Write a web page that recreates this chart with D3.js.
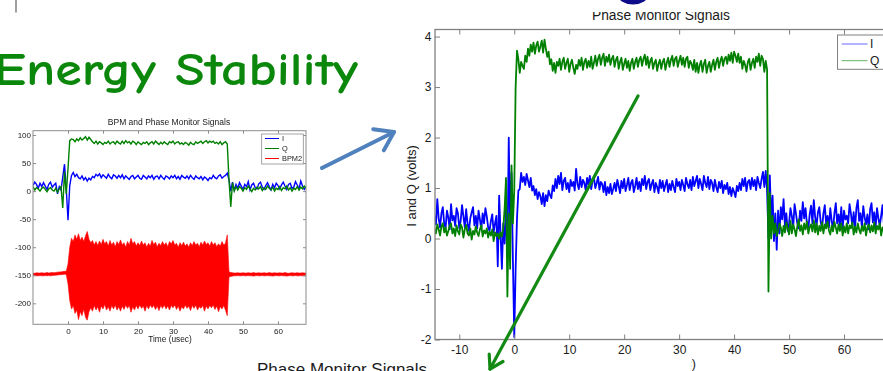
<!DOCTYPE html>
<html>
<head>
<meta charset="utf-8">
<script src="https://cdn.jsdelivr.net/npm/d3@7"></script>
<style>
  body { margin: 0; background: #fff; }
  svg { display: block; }
</style>
</head>
<body>
<svg id="slide" width="883" height="371"></svg>
<script>
// ---------- Phase monitor (large panel): I and Q in volts, sampled every 0.25 usec from -14.5 usec ----------
const phaseStart = -14.5;
const phaseStep = 0.25;
const phaseI = [
  0.45,0.28,0.78,0.4,0.22,0.5,0.62,0.3,0.2,0.55,0.42,
  0.18,0.68,0.36,0.45,0.25,0.6,0.5,0.2,0.35,0.66,
  0.44,0.22,0.58,0.3,0.15,0.4,0.52,0.62,0.26,0.45,
  0.2,0.55,0.38,0.18,0.5,0.3,0.6,0.44,0.22,0.15,
  0.35,0.48,0.12,0.3,0.45,
  -0.55,0.85,0.1,-0.6,0.3,-0.1,0.6,-0.3,2.0,0.2,1.3,-0.4,-1.95,-0.6,0.4,0.95,
  0.98,1.3,1.12,1.22,1.06,1.28,1.15,1.02,1.2,0.95,
  1.04,0.86,0.98,0.78,0.92,0.84,0.68,0.9,0.64,0.86,
  0.74,0.95,0.86,0.8,1.05,0.94,1.18,1.0,1.24,1.08,
  1.3,0.96,1.14,1.2,0.98,1.1,0.92,1.16,1.04,1.12,
  0.95,1.38,1.08,0.98,1.22,1.02,1.16,1.1,0.96,1.2,
  1.06,1.24,0.98,1.14,1.2,1.0,1.1,1.22,0.97,1.12,
  1.08,0.92,1.12,0.86,1.02,0.9,1.08,0.88,0.98,1.1,
  0.94,1.16,1.04,0.9,1.14,1.0,1.18,0.94,1.06,1.2,
  0.96,1.1,1.16,0.92,1.04,1.2,0.98,1.12,0.94,1.18,
  1.06,1.24,0.98,1.12,1.18,0.96,1.08,1.16,0.92,1.1,
  1.02,0.9,1.16,1.0,1.14,0.94,1.06,1.16,0.92,1.08,
  0.96,1.14,1.02,0.92,1.18,1.04,1.12,0.96,1.16,1.06,
  0.94,1.2,1.08,1.0,1.16,0.96,1.22,1.04,1.14,1.24,
  1.0,1.18,1.08,0.96,1.24,1.1,1.02,1.22,0.98,1.16,
  1.1,0.94,1.16,1.02,0.92,1.12,1.0,1.14,0.9,1.06,
  0.98,1.1,0.88,1.02,0.84,1.0,0.92,0.82,1.04,0.94,
  1.1,0.96,1.18,1.04,1.2,0.94,1.12,1.16,0.98,1.2,
  1.04,1.16,0.96,1.22,1.1,1.0,1.18,1.32,1.02,1.34,
  0.95,
  0.0,1.25,0.3,0.85,-0.05,0.5,-0.22,
  0.55,
  0.1,0.62,0.38,0.78,0.25,0.5,0.15,0.3,0.6,
  0.45,0.22,0.68,0.5,0.3,0.2,0.55,0.35,0.72,0.4,
  0.6,0.28,0.18,0.48,0.65,0.3,0.76,0.42,0.25,0.52,
  0.62,0.33,0.2,0.5,0.66,0.28,0.45,0.22,0.6,0.35,
  0.18,0.5,0.7,0.3,0.48,0.25,0.62,0.2,0.55,0.38,
  0.45,0.3,0.68,0.5,0.24,0.52,0.2,0.6,0.76,0.35,
  0.5,0.22,0.64,0.42,0.28,0.48,0.18,0.58,0.7,0.32,
  0.52,0.22,0.6,0.4,0.25,0.45,0.66,0.3,0.85,0.35,0.55
];
const phaseQ = [
  0.2,0.1,0.28,0.18,0.06,0.24,0.3,0.12,0.22,0.06,
  0.15,0.25,0.3,0.1,0.2,0.05,0.26,0.14,0.08,0.28,
  0.22,0.02,0.18,0.27,0.1,0.06,0.2,-0.02,0.15,0.08,
  0.24,0.12,0.05,0.18,0.26,0.04,0.16,0.1,0.2,0.02,
  0.14,0.06,0.18,-0.05,0.12,0.05,0.1,0.0,0.12,0.04,
  0.2,0.6,1.2,-1.15,0.5,-0.6,1.45,0.3,0.95,3.0,3.72,3.55,
  3.28,3.5,3.42,3.36,3.62,3.5,3.76,3.62,3.84,3.7,
  3.88,3.66,3.82,3.9,3.7,3.8,3.92,3.68,3.94,3.76,
  3.6,3.7,3.45,3.55,3.32,3.48,3.28,3.5,3.42,3.56,
  3.34,3.5,3.58,3.36,3.48,3.56,3.3,3.46,3.54,3.38,
  3.26,3.44,3.36,3.54,3.42,3.58,3.34,3.5,3.56,3.38,
  3.52,3.4,3.6,3.36,3.48,3.62,3.42,3.56,3.64,3.44,
  3.58,3.66,3.42,3.6,3.5,3.64,3.44,3.56,3.62,3.4,
  3.54,3.6,3.36,3.5,3.58,3.34,3.46,3.56,3.38,3.52,
  3.32,3.48,3.56,3.36,3.5,3.58,3.4,3.54,3.6,3.42,
  3.56,3.64,3.44,3.6,3.38,3.52,3.58,3.36,3.48,3.54,
  3.32,3.46,3.54,3.36,3.5,3.56,3.34,3.48,3.58,3.4,
  3.54,3.62,3.42,3.56,3.6,3.4,3.52,3.62,3.44,3.58,
  3.4,3.56,3.6,3.38,3.52,3.46,3.34,3.54,3.3,3.48,
  3.28,3.44,3.52,3.3,3.46,3.54,3.28,3.42,3.5,3.3,
  3.44,3.54,3.34,3.5,3.58,3.38,3.52,3.6,3.42,3.56,
  3.6,3.46,3.64,3.52,3.68,3.48,3.7,3.62,3.5,3.66,
  3.48,3.6,3.36,3.52,3.44,3.3,3.5,3.56,3.34,3.48,
  3.56,3.38,3.6,3.5,3.66,3.42,3.62,3.56,3.3,3.52,
  3.35,
  -1.05,0.9,0.0,0.45,0.1,0.3,0.05,
  0.15,0.3,0.22,0.05,0.25,0.12,0.32,0.2,0.08,0.35,
  0.1,0.28,0.18,0.05,0.24,0.38,0.15,0.26,0.08,0.3,
  0.18,0.34,0.1,0.22,0.28,0.14,0.36,0.12,0.3,0.08,
  0.25,0.15,0.32,0.1,0.28,0.2,0.34,0.16,0.08,0.26,
  0.14,0.33,0.22,0.1,0.28,0.15,0.3,0.06,0.24,0.12,
  0.3,0.1,0.26,0.2,0.32,0.08,0.24,0.12,0.3,0.18,
  0.1,0.25,0.15,0.3,0.06,0.22,0.28,0.12,0.26,0.14,
  0.32,0.1,0.25,0.18,0.3,0.06,0.22,0.14,0.28,0.1,0.24
];
const phaseXTicks = [-10, 0, 10, 20, 30, 40, 50, 60];
const phaseYTicks = [-2, -1, 0, 1, 2, 3, 4];

// ---------- BPM and phase monitor (small panel): raw counts, sampled every 0.5 usec from -10 usec ----------
const overviewStart = -10;
const overviewStep = 0.5;
const overviewI = [
  10,16,12,5,14,8,15,9,3,12,16,7,11,14,-5,8,
  2,25,48,5,-52,10,28,
  33,26,30,24,22,27,20,24,18,23,
  20,26,24,30,27,31,24,29,26,23,
  30,25,22,29,27,23,28,24,29,22,
  27,24,21,26,28,22,25,28,23,21,
  28,25,22,27,24,28,21,26,27,22,
  28,24,21,27,25,22,27,24,28,22,
  26,21,28,25,23,27,22,28,24,21,
  27,24,22,26,20,25,23,19,24,22,
  28,24,22,27,29,23,26,28,32,
  20,0,16,2,12,
  5,15,9,3,12,8,17,2,11,14,
  6,4,13,16,7,3,10,15,8,2,
  12,6,14,10,4,11,16,9,3,12,
  14,5,7,17,11,4,18,9,3,8
];
const overviewQ = [
  8,2,6,4,0,5,7,3,-1,4,6,2,0,5,-2,4,
  8,-30,35,-5,40,90,93,
  92,88,93,90,95,91,94,97,91,96,
  92,88,85,89,84,88,86,83,87,85,
  89,84,87,88,84,89,86,84,89,85,
  90,86,88,84,89,87,83,88,85,83,
  87,85,88,83,86,88,84,89,86,83,
  87,84,88,85,83,88,86,89,84,87,
  88,84,86,83,87,85,82,87,84,83,
  88,85,87,89,85,88,90,86,89,87,
  89,85,87,84,88,83,86,88,84,
  20,-28,15,0,8,
  2,8,5,0,6,3,9,4,-1,5,
  2,7,4,8,1,6,3,9,5,2,
  7,0,5,3,8,1,6,4,9,2,
  6,0,5,3,8,2,7,4,9,5
];
// BPM2 signal envelope: upper and lower extremes in each 0.5 usec bin
const bpm2High = [
  -146,-146.5,-145.5,-146,-146,-145.5,-146,-146,-145,-146,
  -145.5,-145,-145.5,-145,-144.5,-144,-144,-143.5,-143,-143,
  -130,
  -100,-84,-90,-78,-86,-76,-88,-82,-90,-80,
  -72,-86,-92,-88,-96,-90,-97,-89,-95,-86,
  -94,-90,-98,-88,-96,-91,-99,-90,-95,-87,
  -96,-92,-100,-90,-96,-84,-94,-90,-98,-92,
  -97,-89,-96,-92,-100,-93,-98,-88,-95,-91,
  -99,-93,-97,-90,-96,-92,-99,-90,-94,-88,
  -96,-93,-100,-92,-97,-91,-98,-94,-100,-92,
  -97,-90,-96,-93,-99,-91,-96,-89,-95,-92,
  -98,-90,-96,-92,-99,-94,-98,-90,-96,-93,-78,
  -144,-145,-145.5,-146,-146,-145.5,-146,-146,-145.5,-146,
  -146,-145.5,-146,-146,-145,-146,-146,-145.5,-146,-146,
  -145.5,-146,-146,-145,-146,-146,-145.5,-146,-146,-145.5,
  -146,-146,-145,-146,-146.5,-146,-145.5,-146,-146,-145.5,
  -146,-146,-145.5,-146,-146
];
const bpm2Low = [
  -151,-150.5,-151,-151,-150.5,-151,-151,-150.5,-151,-150.5,
  -151,-150.5,-150,-150,-149.5,-149,-149,-148.5,-148,-148.5,
  -165,
  -195,-210,-204,-218,-212,-229,-215,-222,-210,-225,
  -230,-215,-208,-214,-204,-212,-206,-216,-205,-210,
  -202,-212,-206,-214,-204,-210,-203,-212,-206,-214,
  -205,-211,-203,-209,-204,-216,-206,-212,-204,-210,
  -203,-209,-205,-214,-204,-210,-203,-208,-204,-211,
  -205,-213,-204,-209,-203,-210,-205,-212,-204,-208,
  -203,-211,-205,-214,-206,-210,-203,-209,-205,-213,
  -204,-209,-203,-212,-206,-209,-204,-214,-205,-210,
  -204,-208,-203,-211,-205,-215,-206,-210,-204,-212,-222,
  -153,-152,-151.5,-151,-151,-150.5,-151,-151,-150.5,-151,
  -151,-150.5,-151,-151,-151.5,-151,-150.5,-151,-151,-150.5,
  -151,-151,-150.5,-151,-151,-151.5,-151,-150.5,-151,-151,
  -150.5,-151,-151,-151.5,-151,-150.5,-151,-151,-150.5,-151,
  -151,-150.5,-151,-151,-151
];
const overviewXTicks = [0, 10, 20, 30, 40, 50, 60];
const overviewYTicks = [-200, -150, -100, -50, 0, 50, 100];

const legendPhase = ["I", "Q"];
const legendOverview = ["I", "Q", "BPM2"];

// ---------- drawing ----------
const FONT = "Arial, 'Liberation Sans', Helvetica, sans-serif";
const BLUE = "#0000ff", GREEN = "#008000", RED = "#ff0000";
const svg = d3.select("#slide");
const defs = svg.append("defs");

defs.append("filter").attr("id", "soft").attr("x", "-5%").attr("y", "-5%").attr("width", "110%").attr("height", "110%")
  .append("feGaussianBlur").attr("stdDeviation", 0.45);

// axes box with inward ticks on all four sides, MATLAB style
function boxAxes(g, x, y, xt, yt, o) {
  const [x0, x1] = x.range();
  const [y0, y1] = y.range();
  const fmt = d => String(d);
  const style = sel => {
    sel.select(".domain").remove();
    sel.selectAll("line").attr("stroke", o.frame).attr("stroke-width", 1);
    sel.selectAll("text").attr("font-family", FONT).attr("font-size", o.font).attr("fill", "#1a1a1a");
  };
  g.append("g").attr("transform", `translate(0,${y0})`)
    .call(d3.axisBottom(x).tickValues(xt).tickSize(-o.tick).tickPadding(o.padX).tickFormat(fmt)).call(style);
  g.append("g").attr("transform", `translate(0,${y1})`)
    .call(d3.axisTop(x).tickValues(xt).tickSize(-o.tick).tickFormat("")).call(style);
  g.append("g").attr("transform", `translate(${x0},0)`)
    .call(d3.axisLeft(y).tickValues(yt).tickSize(-o.tick).tickPadding(o.padY).tickFormat(fmt)).call(style);
  g.append("g").attr("transform", `translate(${x1},0)`)
    .call(d3.axisRight(y).tickValues(yt).tickSize(-o.tick).tickFormat("")).call(style);
  g.append("rect").attr("x", x0).attr("y", y1).attr("width", x1 - x0).attr("height", y0 - y1)
    .attr("fill", "none").attr("stroke", o.frame).attr("stroke-width", o.frameW);
}

// slide headline
svg.append("line").attr("x1", 16).attr("x2", 16).attr("y1", 0).attr("y2", 12.5)
  .attr("stroke", "#777").attr("stroke-width", 1.4);
svg.append("text").attr("x", -6).attr("y", 85)
  .attr("font-family", "'Comic Sans MS', 'Comic Neue', Lato, 'DejaVu Sans', sans-serif")
  .attr("font-size", 46).attr("font-weight", 700).attr("fill", "#0b870b")
  .attr("textLength", 364).attr("lengthAdjust", "spacingAndGlyphs")
  .text("Energy Stability");
svg.append("ellipse").attr("cx", 633).attr("cy", -5).attr("rx", 15).attr("ry", 9.5).attr("fill", "#0c0c8a");

// ---------- small panel ----------
{
  const g = svg.append("g").attr("filter", "url(#soft)");
  const x = d3.scaleLinear().domain([-10, 68]).range([33, 306]);
  const y = d3.scaleLinear().domain([-237.4, 107.7]).range([324.3, 130.7]);
  const t = i => overviewStart + i * overviewStep;

  defs.append("clipPath").attr("id", "clipSmall").append("rect")
    .attr("x", 33).attr("y", 130.7).attr("width", 273).attr("height", 193.6);
  const plot = g.append("g").attr("clip-path", "url(#clipSmall)");

  plot.append("path").datum(bpm2High)
    .attr("d", d3.area().x((d, i) => x(t(i))).y1(d => y(d)).y0((d, i) => y(bpm2Low[i])))
    .attr("fill", RED).attr("stroke", RED).attr("stroke-width", 0.6);
  const line = d3.line().x((d, i) => x(t(i))).y(d => y(d));
  plot.append("path").datum(overviewI).attr("d", line).attr("fill", "none").attr("stroke", BLUE).attr("stroke-width", 1.4);
  plot.append("path").datum(overviewQ).attr("d", line).attr("fill", "none").attr("stroke", GREEN).attr("stroke-width", 1.4);

  boxAxes(g, x, y, overviewXTicks, overviewYTicks, { frame: "#8c8c8c", frameW: 1, tick: 3, padX: 3.6, padY: 2, font: 8 });

  g.append("text").attr("x", 169).attr("y", 125).attr("text-anchor", "middle")
    .attr("font-family", FONT).attr("font-size", 8.5).attr("fill", "#1a1a1a").text("BPM and Phase Monitor Signals");
  g.append("text").attr("x", 170).attr("y", 342).attr("text-anchor", "middle")
    .attr("font-family", FONT).attr("font-size", 8.3).attr("fill", "#1a1a1a").text("Time (usec)");

  const lg = g.append("g");
  lg.append("rect").attr("x", 261.7).attr("y", 134).attr("width", 41.6).attr("height", 30)
    .attr("fill", "#fff").attr("stroke", "#8c8c8c").attr("stroke-width", 0.8);
  const colors = [BLUE, GREEN, RED];
  legendOverview.forEach((name, k) => {
    const yy = 138.5 + k * 10;
    lg.append("line").attr("x1", 265).attr("x2", 279).attr("y1", yy).attr("y2", yy)
      .attr("stroke", colors[k]).attr("stroke-width", 1);
    lg.append("text").attr("x", 282).attr("y", yy).attr("dy", "0.35em")
      .attr("font-family", FONT).attr("font-size", 7.4).attr("fill", "#1a1a1a").text(name);
  });
}

// ---------- large panel ----------
{
  const g = svg.append("g");
  const x = d3.scaleLinear().domain([-14.42, 68]).range([435, 888]);
  const y = d3.scaleLinear().domain([-2, 4.14]).range([339.5, 29.5]);
  const t = i => phaseStart + i * phaseStep;

  defs.append("clipPath").attr("id", "clipLarge").append("rect")
    .attr("x", 435).attr("y", 29.5).attr("width", 453).attr("height", 310);
  const plot = g.append("g").attr("clip-path", "url(#clipLarge)");
  const line = d3.line().x((d, i) => x(t(i))).y(d => y(d));
  plot.append("path").datum(phaseI).attr("d", line).attr("fill", "none").attr("stroke", BLUE)
    .attr("stroke-width", 1.8).attr("stroke-linejoin", "round");
  plot.append("path").datum(phaseQ).attr("d", line).attr("fill", "none").attr("stroke", GREEN)
    .attr("stroke-width", 1.8).attr("stroke-linejoin", "round");

  boxAxes(g, x, y, phaseXTicks, phaseYTicks, { frame: "#808080", frameW: 1.3, tick: 5, padX: 6, padY: 3.5, font: 12 });

  defs.append("clipPath").attr("id", "clipTitle").append("rect")
    .attr("x", 500).attr("y", 12).attr("width", 300).attr("height", 20);
  g.append("text").attr("x", 661).attr("y", 20).attr("text-anchor", "middle").attr("clip-path", "url(#clipTitle)")
    .attr("font-family", FONT).attr("font-size", 13.8).attr("fill", "#1a1a1a").text("Phase Monitor Signals");

  g.append("text").attr("transform", "translate(416,186) rotate(-90)").attr("text-anchor", "middle")
    .attr("font-family", FONT).attr("font-size", 13).attr("fill", "#1a1a1a").text("I and Q (volts)");

  g.append("text").attr("x", 696).attr("y", 368).attr("text-anchor", "end")
    .attr("font-family", FONT).attr("font-size", 12.5).attr("fill", "#1a1a1a").text("Time (usec)");

  const lg = g.append("g");
  lg.append("rect").attr("x", 837.5).attr("y", 35).attr("width", 60).attr("height", 34.3)
    .attr("fill", "#fff").attr("stroke", "#808080").attr("stroke-width", 1);
  const colors = [BLUE, GREEN];
  legendPhase.forEach((name, k) => {
    const yy = 44 + k * 16.7;
    lg.append("line").attr("x1", 841.7).attr("x2", 867.5).attr("y1", yy).attr("y2", yy)
      .attr("stroke", colors[k]).attr("stroke-width", 1).attr("stroke-opacity", 0.6);
    lg.append("text").attr("x", 870).attr("y", yy).attr("dy", "0.36em")
      .attr("font-family", FONT).attr("font-size", 12).attr("fill", "#1a1a1a").text(name);
  });
}

// next figure on the slide, partly below the visible area
svg.append("rect").attr("x", 230).attr("y", 356).attr("width", 461.5).attr("height", 20).attr("fill", "#fff");
svg.append("text").attr("x", 257).attr("y", 375).attr("font-family", FONT).attr("font-size", 17)
  .attr("fill", "#1a1a1a").text("Phase Monitor Signals");

// callout arrows
function arrow(tail, tip, color, width, len, spread) {
  const back = Math.atan2(tail[1] - tip[1], tail[0] - tip[0]);
  const wing = a => [tip[0] + len * Math.cos(a), tip[1] + len * Math.sin(a)];
  const g = svg.append("g").attr("stroke", color).attr("stroke-width", width)
    .attr("stroke-linecap", "round").attr("stroke-linejoin", "round").attr("fill", "none");
  g.append("line").attr("x1", tail[0]).attr("y1", tail[1]).attr("x2", tip[0]).attr("y2", tip[1]);
  g.append("path").attr("d", d3.line()([wing(back + spread), tip, wing(back - spread)]));
}
arrow([322, 168], [394, 132], "#4f81bd", 4, 21, 0.6);
arrow([638, 96], [490, 369], "#138a13", 3.2, 15, 0.55);
</script>
</body>
</html>
